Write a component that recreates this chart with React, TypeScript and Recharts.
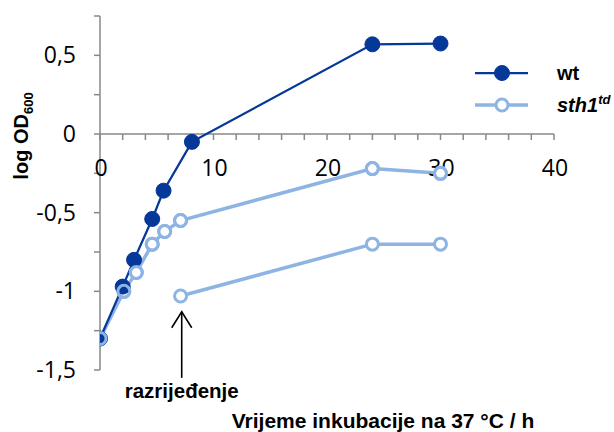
import { LineChart, Line, XAxis, YAxis, ReferenceLine, ReferenceDot } from "recharts";

// wt (dark) and sth1td (light) growth at 37 °C, log OD600 vs time in h
const wtTime = [0, 2, 3, 4.6, 5.6, 8.1, 24, 30];
const wtLog = [-1.3, -0.97, -0.8, -0.54, -0.36, -0.05, 0.57, 0.575];

const sthTime = [0, 2.1, 3.2, 4.6, 5.7, 7.1, 24, 30];
const sthLog = [-1.3, -1.0, -0.88, -0.7, -0.62, -0.55, -0.22, -0.25];

// sth1td culture after dilution
const dilTime = [7.1, 24, 30];
const dilLog = [-1.03, -0.7, -0.7];

const xTicks = [0, 2, 4, 6, 8, 10, 12, 14, 16, 18, 20, 22, 24, 26, 28, 30, 32, 34, 36, 38, 40];
const xLabels = [0, 10, 20, 30, 40];
const yTicks = [-1.5, -1.25, -1, -0.75, -0.5, -0.25, 0, 0.25, 0.5, 0.75];
const yLabels = [-1.5, -1, -0.5, 0, 0.5];

const dilutionAt = 7.2;
const arrowRange = [-1.13, -1.55];

const legendItems = [
  { name: "wt", filled: true },
  { name: "sth1", sup: "td", filled: false }
];

const DARK = "#053899";
const LIGHT = "#8db4e3";
const AXIS = "#888888";
const TICK_FONT = "'Open Sans', sans-serif";
const BOLD_FONT = "'Liberation Sans', Arial, sans-serif";

const toPoints = (xs: number[], ys: number[]) => xs.map((x, i) => ({ x, y: ys[i] }));

const wtData = toPoints(wtTime, wtLog);
const sthData = toPoints(sthTime, sthLog);
const dilData = toPoints(dilTime, dilLog);

const formatY = (v: number) => (yLabels.includes(v) ? String(v).replace(".", ",") : "");

function XTick({ cx, cy, value }: { cx?: number; cy?: number; value: number }) {
  if (cx == null || cy == null) return <g />;
  return (
    <g>
      <line x1={cx} y1={cy} x2={cx} y2={cy + 6} stroke={AXIS} strokeWidth={1.5} />
      {xLabels.includes(value) ? (
        <text x={cx + 1} y={cy + 42} textAnchor="middle" fontFamily={TICK_FONT} fontSize={23} fill="#000">
          {value}
        </text>
      ) : null}
    </g>
  );
}

function Arrow(props: any) {
  const { x1, y1, x2, y2 } = props;
  const x = (x1 + x2) / 2;
  const top = Math.min(y1, y2);
  const bottom = Math.max(y1, y2);
  return (
    <g>
      <line x1={x} y1={top} x2={x} y2={bottom} stroke="#000" strokeWidth={1.6} />
      <polyline
        points={`${x - 10},${top + 16} ${x},${top} ${x + 10},${top + 16}`}
        fill="none"
        stroke="#000"
        strokeWidth={1.6}
      />
      <text x={x} y={bottom + 20} textAnchor="middle" fontFamily={BOLD_FONT} fontWeight="bold" fontSize={20.5} fill="#000">
        razrijeđenje
      </text>
    </g>
  );
}

function LegendBox() {
  return (
    <svg width={144} height={70} style={{ position: "absolute", left: 470, top: 55 }}>
      {legendItems.map((item, i) => {
        const y = 18 + i * 32;
        const color = item.filled ? DARK : LIGHT;
        return (
          <g key={item.name}>
            <line x1={5} y1={y} x2={58} y2={y} stroke={color} strokeWidth={item.filled ? 2.25 : 3.5} />
            {item.filled ? (
              <circle cx={32} cy={y} r={7.5} fill={DARK} stroke={DARK} strokeWidth={1} />
            ) : (
              <circle cx={32} cy={y} r={6} fill="#fff" stroke={LIGHT} strokeWidth={3} />
            )}
            <text
              x={87}
              y={y + 7}
              fontFamily={BOLD_FONT}
              fontWeight="bold"
              fontStyle={item.filled ? "normal" : "italic"}
              fontSize={20}
              fill="#000"
            >
              {item.name}
              {item.sup ? (
                <tspan fontSize={13} dy={-8}>
                  {item.sup}
                </tspan>
              ) : null}
            </text>
          </g>
        );
      })}
    </svg>
  );
}

export default function App() {
  return (
    <div style={{ position: "absolute", left: 0, top: 0, width: 614, height: 432, background: "#fff" }}>
      <LineChart width={614} height={432} margin={{ top: 16, right: 60, bottom: 62, left: 0 }}>
        <XAxis type="number" dataKey="x" domain={[0, 40]} hide allowDataOverflow />
        <YAxis
          type="number"
          domain={[-1.5, 0.75]}
          ticks={yTicks}
          interval={0}
          tickFormatter={formatY}
          width={100}
          tickSize={6}
          tickMargin={18}
          axisLine={{ stroke: AXIS, strokeWidth: 1.5 }}
          tickLine={{ stroke: AXIS, strokeWidth: 1.5 }}
          tick={{ fontFamily: TICK_FONT, fontSize: 23, fill: "#000" }}
        />
        <ReferenceLine y={0} stroke={AXIS} strokeWidth={1.5} />
        {xTicks.map((t) => (
          <ReferenceDot
            key={t}
            x={t}
            y={0}
            ifOverflow="visible"
            shape={(p: any) => <XTick cx={p.cx} cy={p.cy} value={t} />}
          />
        ))}
        <Line
          data={sthData}
          dataKey="y"
          stroke={LIGHT}
          strokeWidth={3.5}
          dot={{ r: 6, fill: "#fff", stroke: LIGHT, strokeWidth: 3 }}
          activeDot={false}
          isAnimationActive={false}
        />
        <Line
          data={dilData}
          dataKey="y"
          stroke={LIGHT}
          strokeWidth={3.5}
          dot={{ r: 6, fill: "#fff", stroke: LIGHT, strokeWidth: 3 }}
          activeDot={false}
          isAnimationActive={false}
        />
        <Line
          data={wtData}
          dataKey="y"
          stroke={DARK}
          strokeWidth={2.25}
          dot={{ r: 7.5, fill: DARK, stroke: DARK, strokeWidth: 1 }}
          activeDot={false}
          isAnimationActive={false}
        />
        {/* rings of sth1td again on top so the wt dots show through them */}
        <Line
          data={sthData}
          dataKey="y"
          stroke="transparent"
          strokeWidth={0}
          dot={{ r: 6, fill: "none", stroke: LIGHT, strokeWidth: 3 }}
          activeDot={false}
          isAnimationActive={false}
        />
        <ReferenceLine
          segment={[
            { x: dilutionAt, y: arrowRange[0] },
            { x: dilutionAt, y: arrowRange[1] }
          ]}
          ifOverflow="visible"
          shape={(p: any) => <Arrow {...p} />}
        />
        <text
          x={0}
          y={0}
          transform="translate(28 136) rotate(-90)"
          textAnchor="middle"
          fontFamily={BOLD_FONT}
          fontWeight="bold"
          fontSize={20}
          fill="#000"
        >
          log OD<tspan fontSize={13} dy={5}>600</tspan>
        </text>
        <text x={383} y={428} textAnchor="middle" fontFamily={BOLD_FONT} fontWeight="bold" fontSize={21} fill="#000">
          Vrijeme inkubacije na 37 °C / h
        </text>
      </LineChart>
      <LegendBox />
    </div>
  );
}
